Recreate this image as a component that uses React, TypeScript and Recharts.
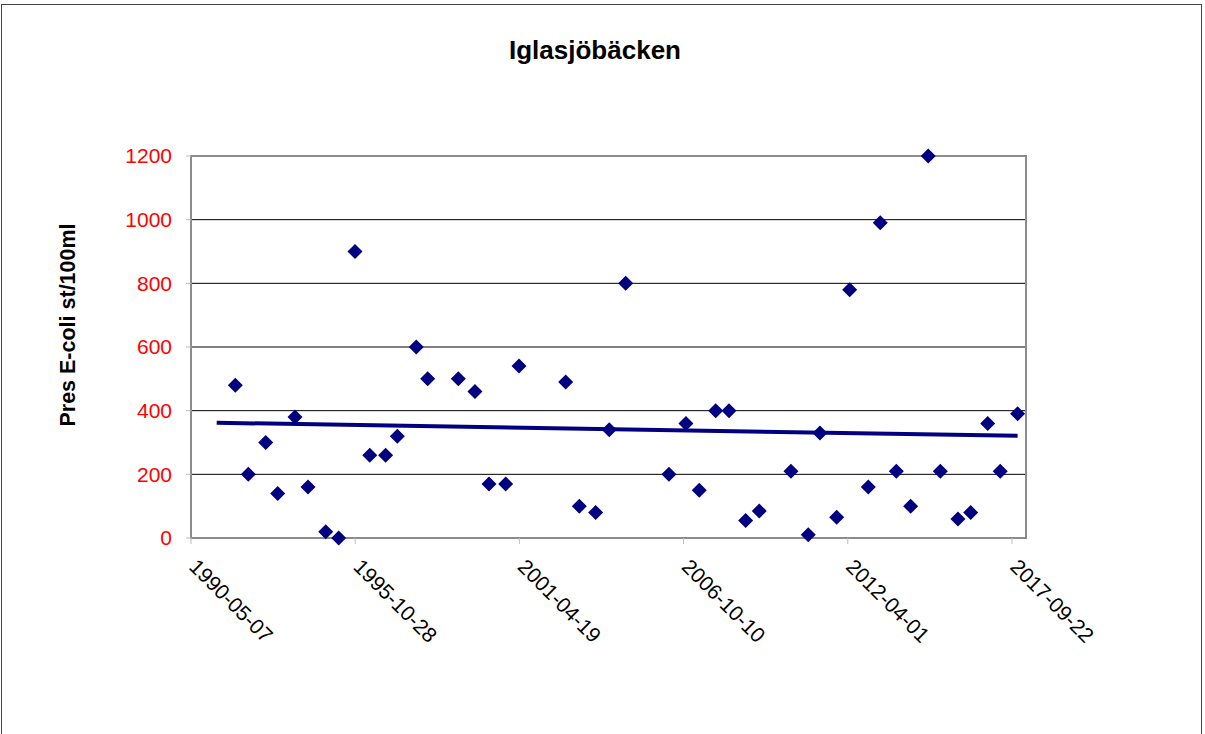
import React from 'react';
import { ScatterChart, Scatter, XAxis, YAxis, CartesianGrid, ReferenceArea } from 'recharts';

// days after 1990-05-07 (first x tick)
const sampleDays = [
  540, 698, 910, 1056, 1267, 1425, 1641, 1799, 1998, 2177,
  2371, 2513, 2744, 2883, 3256, 3459, 3630, 3833, 3995, 4564,
  4730, 4929, 5095, 5295, 5822, 6029, 6191, 6391, 6553, 6756,
  6922, 7308, 7519, 7661, 7865, 8023, 8250, 8396, 8591, 8766,
  8980, 9127, 9342, 9497, 9704, 9857, 10069,
];

// E-coli st/100ml
const ecoli = [
  480, 200, 300, 140, 380, 160, 20, 0, 900, 260,
  260, 320, 600, 500, 500, 460, 170, 170, 540, 490,
  100, 80, 340, 800, 200, 360, 150, 400, 400, 55,
  85, 210, 10, 330, 65, 780, 160, 990, 210, 100,
  1200, 210, 60, 80, 360, 210, 390,
];

// linear trend, read at its two ends
const trendDays = [313, 10069];
const trendValues = [362, 321];

const xTicks = [0, 2000, 4000, 6000, 8000, 10000];
const xTickLabels = ['1990-05-07', '1995-10-28', '2001-04-19', '2006-10-10', '2012-04-01', '2017-09-22'];
const yTicks = [0, 200, 400, 600, 800, 1000, 1200];

const points = sampleDays.map((d, i) => ({ x: d, y: ecoli[i] }));
const trend = trendDays.map((d, i) => ({ x: d, y: trendValues[i] }));

const FONT = '"Liberation Sans", Arial, sans-serif';
const NAVY = '#000080';

const Diamond = (props: any) => {
  const { cx, cy } = props;
  const r = 7.5;
  return (
    <polygon
      points={`${cx},${cy - r} ${cx + r},${cy} ${cx},${cy + r} ${cx - r},${cy}`}
      fill={NAVY}
    />
  );
};

const DateTick = (props: any) => {
  const { x, y, payload } = props;
  const idx = xTicks.indexOf(payload.value);
  const tx = x - 3;
  const ty = y + 22;
  return (
    <text
      x={tx}
      y={ty}
      transform={`rotate(45, ${tx}, ${ty})`}
      textAnchor="start"
      fontSize={21}
      fontFamily={FONT}
      fill="#000"
    >
      {xTickLabels[idx]}
    </text>
  );
};

const App: React.FC = () => {
  return (
    <div style={{ position: 'absolute', left: 0, top: 0, width: 1205, height: 734, background: '#fff', overflow: 'hidden' }}>
      <div
        style={{
          position: 'absolute',
          left: 1,
          top: 4,
          width: 1201,
          height: 800,
          border: '1px solid #444',
          boxSizing: 'border-box',
        }}
      />
      <ScatterChart
        width={1205}
        height={734}
        margin={{ top: 156, right: 179, bottom: 0, left: 0 }}
        style={{ position: 'absolute', left: 0, top: 0 }}
      >
        <CartesianGrid vertical={false} stroke="#000" strokeWidth={1} />
        <XAxis
          type="number"
          dataKey="x"
          domain={[0, 10171]}
          ticks={xTicks}
          height={196}
          tick={<DateTick />}
          tickSize={6}
          tickMargin={2}
          axisLine={{ stroke: '#8c8c8c', strokeWidth: 2 }}
          tickLine={{ stroke: '#bdbdbd' }}
          interval={0}
        />
        <YAxis
          type="number"
          dataKey="y"
          domain={[0, 1200]}
          ticks={yTicks}
          width={191}
          tickSize={5}
          tickMargin={14}
          axisLine={{ stroke: '#8c8c8c', strokeWidth: 2 }}
          tickLine={{ stroke: '#bdbdbd' }}
          tick={{ fill: '#ff0000', fontSize: 21, fontFamily: FONT }}
          interval={0}
        />
        <ReferenceArea x1={0} x2={10171} y1={0} y2={1200} fill="none" stroke="#8c8c8c" strokeWidth={2} />
        <Scatter
          data={trend}
          line={{ stroke: NAVY, strokeWidth: 4 }}
          shape={() => <g />}
          isAnimationActive={false}
          legendType="none"
        />
        <Scatter data={points} shape={<Diamond />} isAnimationActive={false} />
      </ScatterChart>
      <svg width={1205} height={734} style={{ position: 'absolute', left: 0, top: 0, pointerEvents: 'none' }}>
        <text x={595} y={59} textAnchor="middle" fontSize={26} fontWeight="bold" fontFamily={FONT}>
          Iglasjöbäcken
        </text>
        <text
          x={75}
          y={325}
          textAnchor="middle"
          fontSize={21.5}
          fontWeight="bold"
          fontFamily={FONT}
          transform="rotate(-90, 75, 325)"
        >
          Pres E-coli st/100ml
        </text>
      </svg>
    </div>
  );
};

export default App;
